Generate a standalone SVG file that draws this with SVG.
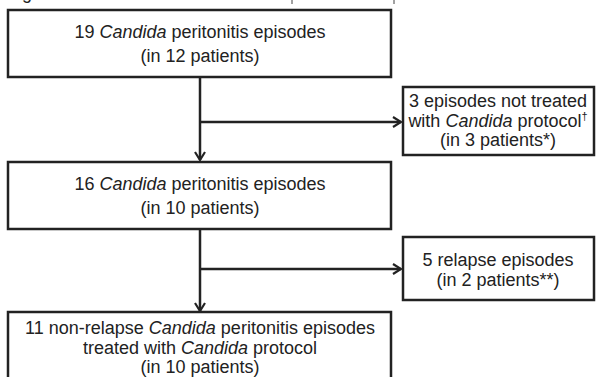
<svg xmlns="http://www.w3.org/2000/svg" width="597" height="377" viewBox="0 0 597 377">
<style>
.box{fill:#fff;stroke:#222;stroke-width:2.5}
.t{font-family:"Liberation Sans",Arial,sans-serif;font-size:18px;fill:#222;text-anchor:middle}
.i{font-style:italic}
.c{stroke:#222;stroke-width:2.5;fill:none}
</style>
<defs>
<marker id="ah" viewBox="0 0 12 12" refX="10" refY="6" markerWidth="12" markerHeight="12" markerUnits="userSpaceOnUse" orient="auto">
<path d="M2,1 L10,6 L2,11" fill="none" stroke="#222" stroke-width="2.2"/>
</marker>
</defs>
<rect width="597" height="377" fill="#fff"/>
<text x="22" y="-1" style="font-family:'Liberation Sans',Arial,sans-serif;font-size:18px;fill:#222">g</text>
<line x1="292" y1="0" x2="292" y2="4" stroke="#444" stroke-width="1"/>
<line x1="394" y1="0" x2="394" y2="4" stroke="#444" stroke-width="1"/>
<g id="connectors">
<line class="c" x1="200" y1="77" x2="200" y2="160" marker-end="url(#ah)"/>
<line class="c" x1="200" y1="122" x2="401" y2="122" marker-end="url(#ah)"/>
<line class="c" x1="200" y1="229" x2="200" y2="311" marker-end="url(#ah)"/>
<line class="c" x1="200" y1="269" x2="401" y2="269" marker-end="url(#ah)"/>
</g>
<g id="n1">
<rect class="box" x="8" y="10" width="383" height="67"/>
<text class="t" x="200" y="38">19 <tspan class="i">Candida</tspan> peritonitis episodes</text>
<text class="t" x="200" y="62">(in 12 patients)</text>
</g>
<g id="n2">
<rect class="box" x="403" y="87" width="191" height="68"/>
<text class="t" x="498" y="107">3 episodes not treated</text>
<text class="t" x="498" y="127">with <tspan class="i">Candida</tspan> protocol<tspan font-size="11" dy="-7">†</tspan></text>
<text class="t" x="498" y="146">(in 3 patients*)</text>
</g>
<g id="n3">
<rect class="box" x="8" y="162" width="383" height="67"/>
<text class="t" x="200" y="190">16 <tspan class="i">Candida</tspan> peritonitis episodes</text>
<text class="t" x="200" y="214">(in 10 patients)</text>
</g>
<g id="n4">
<rect class="box" x="403" y="237" width="191" height="63"/>
<text class="t" x="498" y="266">5 relapse episodes</text>
<text class="t" x="498" y="286">(in 2 patients**)</text>
</g>
<g id="n5">
<rect class="box" x="8" y="312" width="383" height="70"/>
<text class="t" x="200" y="334">11 non-relapse <tspan class="i">Candida</tspan> peritonitis episodes</text>
<text class="t" x="200" y="354">treated with <tspan class="i">Candida</tspan> protocol</text>
<text class="t" x="200" y="373">(in 10 patients)</text>
</g>
</svg>
